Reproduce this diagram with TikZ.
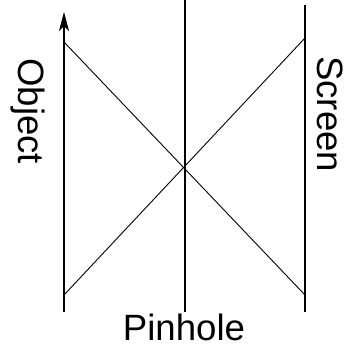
\documentclass[tikz,border=0pt]{standalone}
\usepackage{fontspec}
\setmainfont{Liberation Sans}
\usetikzlibrary{arrows.meta}
\begin{document}
\begin{tikzpicture}[x=1pt,y=-1pt,
  vline/.style={line width=1.3pt,draw=black},
  ray/.style={line width=0.9pt,draw=black},
  lab/.style={inner sep=0pt,font=\fontsize{36.6}{40}\selectfont}]
\useasboundingbox (0,0) rectangle (351,349);
% vertical lines
\coordinate (objB) at (64,312);
\coordinate (objT) at (64,12);
\coordinate (pinT) at (185,0);
\coordinate (pinB) at (185,312);
\coordinate (scrT) at (305,5);
\coordinate (scrB) at (305,312);
% ray end points
\coordinate (o1) at (64,42);
\coordinate (s1) at (305,295);
\coordinate (o2) at (64,295);
\coordinate (s2) at (305,38);
\draw[vline,-{Stealth[length=19pt,width=10pt,inset=5pt]}] (objB) -- (objT);
\draw[vline] (pinT) -- (pinB);
\draw[vline] (scrT) -- (scrB);
\draw[ray] (o1) -- (s1);
\draw[ray] (o2) -- (s2);
% labels
\node[lab,rotate=-90,anchor=base west] (object) at (18,58) {Object};
\node[lab,rotate=-90,anchor=base west] (screen) at (317,56) {Screen};
\node[lab,anchor=base] (pinhole) at (184,340) {Pinhole};
\end{tikzpicture}
\end{document}
